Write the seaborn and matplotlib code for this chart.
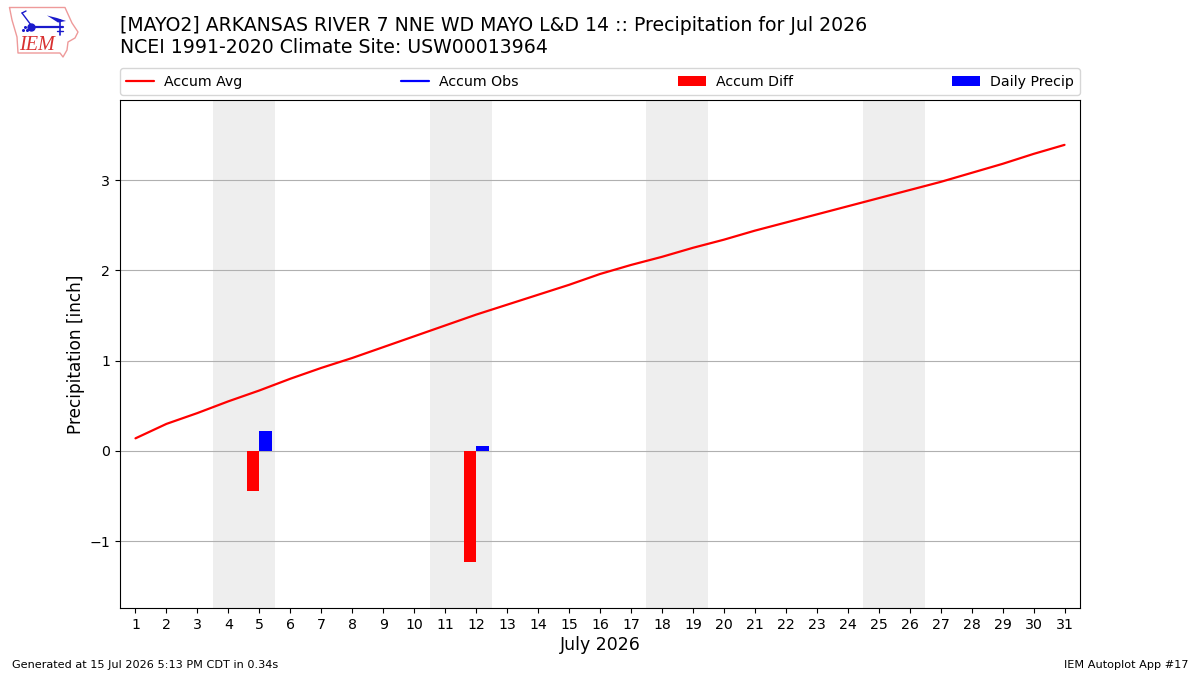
import matplotlib
matplotlib.use("Agg")
import matplotlib.pyplot as plt
from matplotlib.patches import Patch
from matplotlib.lines import Line2D
import pandas as pd
import seaborn as sns

# Accumulated climatology, one value per day of July
days = list(range(1, 32))
accum_avg = [0.14, 0.30, 0.42, 0.55, 0.67, 0.80, 0.92, 1.03, 1.15, 1.27, 1.39,
             1.51, 1.62, 1.73, 1.84, 1.96, 2.06, 2.15, 2.25, 2.34, 2.44, 2.53,
             2.62, 2.71, 2.80, 2.89, 2.98, 3.08, 3.18, 3.29, 3.39]

# Days with observed rain
rain_days = [5, 12]
accum_diff = [-0.44, -1.23]
daily_precip = [0.22, 0.05]

# Weekend bands (first and last day)
weekends = [(4, 5), (11, 12), (18, 19), (25, 26)]

title_text = ("[MAYO2] ARKANSAS RIVER 7 NNE WD MAYO L&D 14 :: Precipitation for Jul 2026\n"
              "NCEI 1991-2020 Climate Site: USW00013964")
legend_labels = ["Accum Avg", "Accum Obs", "Accum Diff", "Daily Precip"]

# Logo outline, in figure pixels
state_x = [9.5, 65, 67, 72, 78, 75, 68, 67, 63, 60, 18, 17, 12, 9.5]
state_y = [7.5, 7.5, 12, 23, 32, 38, 42, 50, 57, 53, 53, 37, 20, 7.5]

sns.set_theme(style="ticks", rc={"font.family": "DejaVu Sans"})
plt.rcParams["font.family"] = ["DejaVu Sans"]

W, H = 1200, 675
fig = plt.figure(figsize=(12, 6.75), dpi=100, facecolor="white")
ax = fig.add_axes([120 / W, 1 - 608 / H, 960 / W, 508 / H])

for first, last in weekends:
    ax.axvspan(first - 0.5, last + 0.5, color="#eeeeee", lw=0, zorder=0)

frame = pd.DataFrame({"day": days, "avg": accum_avg})
sns.lineplot(data=frame, x="day", y="avg", color="red", lw=1.6, ax=ax,
             errorbar=None, zorder=3)

ax.bar(rain_days, accum_diff, width=-0.4, align="edge", color="red", lw=0, zorder=3)
ax.bar(rain_days, daily_precip, width=0.4, align="edge", color="blue", lw=0, zorder=3)

ax.set_xlim(0.5, 31.5)
ax.set_ylim(-1.739, 3.887)
ax.set_xticks(days)
ax.set_yticks([-1, 0, 1, 2, 3])
ax.set_yticklabels(["\u22121", "0", "1", "2", "3"])
ax.tick_params(axis="both", labelsize=10.2, length=3.5, width=0.8, color="black",
               labelcolor="black")
ax.yaxis.grid(True, color="#b0b0b0", lw=0.8)
ax.set_axisbelow(True)
ax.set_xlabel("July 2026", fontsize=12.5, color="black", labelpad=3)
ax.set_ylabel("Precipitation [inch]", fontsize=12.2, color="black", labelpad=3)
for side in ax.spines.values():
    side.set_visible(True)
    side.set_color("black")
    side.set_linewidth(0.8)

handles = [
    Line2D([], [], color="red", lw=1.6),
    Line2D([], [], color="blue", lw=1.6),
    Patch(facecolor="red", lw=0),
    Patch(facecolor="blue", lw=0),
]
ax.legend(handles, legend_labels, loc="lower left", mode="expand", ncol=4,
          fontsize=10.15, borderaxespad=0.0, frameon=True, labelcolor="black",
          handletextpad=0.72, handlelength=1.97, borderpad=0.45)
ax.get_legend().get_frame().set_edgecolor("#cccccc")
ax.get_legend().set_bbox_to_anchor((0, 1 + 5 / 508, 1, 0.05), transform=ax.transAxes)

fig.text(120 / W, 1 - 57 / H, title_text, fontsize=13.6, color="black",
         ha="left", va="bottom", linespacing=1.2)
fig.text(12 / W, 1 - 665.5 / H, "Generated at 15 Jul 2026 5:13 PM CDT in 0.34s",
         fontsize=8.12, color="black", ha="left", va="center")
fig.text(1188 / W, 1 - 665.5 / H, "IEM Autoplot App #17",
         fontsize=8.12, color="black", ha="right", va="center")

# Small station-model logo at the top left
logo = fig.add_axes([0, 0, 1, 1], facecolor="none")
logo.set_xlim(0, W)
logo.set_ylim(H, 0)
logo.axis("off")
logo.plot(state_x, state_y, color="#ee9a9a", lw=1.0)
logo.plot([31, 63], [27, 27], color="#1a1acc", lw=1.6)
logo.plot([31, 22], [25, 13], color="#1a1acc", lw=1.0)
logo.plot([22, 26], [13, 11], color="#1a1acc", lw=1.0)
logo.plot([60, 60], [20, 35], color="#1a1acc", lw=1.2)
logo.plot([57, 63], [31, 31], color="#1a1acc", lw=1.0)
logo.fill([47, 57, 66, 58], [15.5, 18, 21, 22.5], color="#1a1acc", lw=0)
logo.plot([31], [27], marker="o", ms=5, color="#1a1acc")
logo.plot([23, 25, 27], [29.5, 26.5, 29.5], ls="none", marker="o", ms=1.2, color="#1a1acc")
logo.text(37, 45, "IEM", family="Liberation Serif", style="italic", fontsize=14.5,
          color="#d83030", ha="center", va="center")

fig.savefig("out.png", dpi=100)
